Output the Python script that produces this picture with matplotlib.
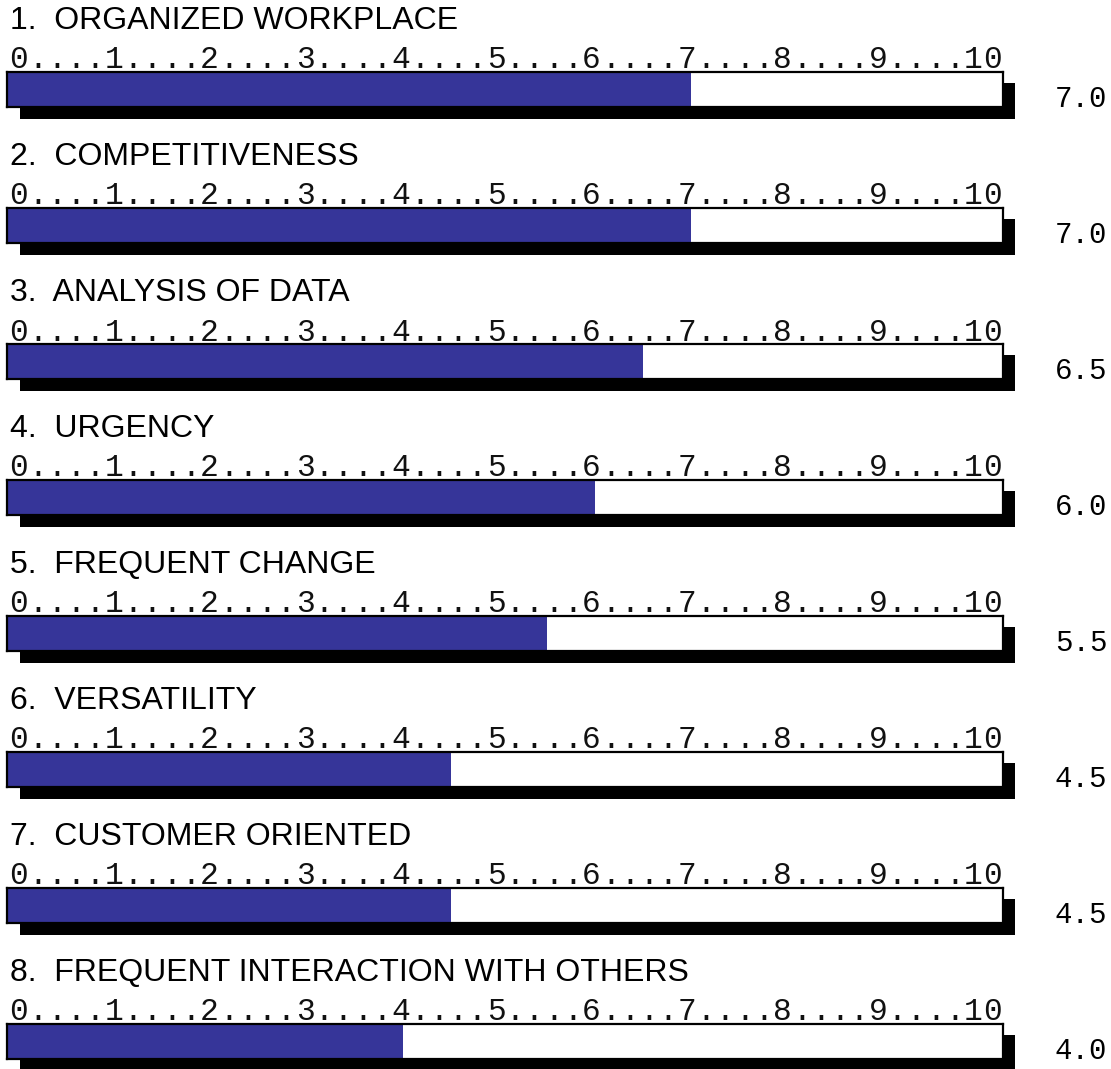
import matplotlib
matplotlib.use("Agg")
import matplotlib.pyplot as plt
from matplotlib.patches import Rectangle

categories = [
    "ORGANIZED WORKPLACE",
    "COMPETITIVENESS",
    "ANALYSIS OF DATA",
    "URGENCY",
    "FREQUENT CHANGE",
    "VERSATILITY",
    "CUSTOMER ORIENTED",
    "FREQUENT INTERACTION WITH OTHERS",
]
values = [7.0, 7.0, 6.5, 6.0, 5.5, 4.5, 4.5, 4.0]
scale_label = "0....1....2....3....4....5....6....7....8....9....10"

W, H = 1111, 1069
fig = plt.figure(figsize=(W / 100, H / 100), dpi=100)
fig.patch.set_facecolor("white")

BAR_COLOR = "#363599"
STEP = 136
XMIN, XMAX = -0.129, 10.257
PITCH = 19.1  # px between scale characters

def fx(px):
    return px / W

def fy(py):
    return 1 - py / H

for i, (cat, val) in enumerate(zip(categories, values)):
    off = STEP * i
    # title
    fig.text(fx(10), fy(29 + off), f"{i + 1}.  {cat}", fontsize=23,
             family="Liberation Sans", ha="left", va="baseline", color="black")
    # scale text (monospace, spread evenly)
    for k, ch in enumerate(scale_label):
        fig.text(fx(18.5 + PITCH * k), fy(68.5 + off), ch, fontsize=22.5,
                 family="Liberation Mono", ha="center", va="baseline",
                 color="#111111")
    # shadow
    fig.patches.append(Rectangle((fx(20), fy(119 + off)), fx(995), 36 / H,
                                 transform=fig.transFigure, facecolor="black",
                                 edgecolor="none", zorder=-1))
    # bar axes
    ax = fig.add_axes([fx(7), fy(107 + off), fx(996), 35 / H])
    ax.set_xlim(XMIN, XMAX)
    ax.set_ylim(0, 1)
    ax.barh(0.5, val - XMIN, left=XMIN, height=1.0, color=BAR_COLOR,
            edgecolor="none")
    ax.set_facecolor("white")
    ax.set_xticks([])
    ax.set_yticks([])
    for sp in ax.spines.values():
        sp.set_linewidth(1.6)
        sp.set_color("black")
    # value label
    fig.text(fx(1055), fy(107 + off), f"{val:.1f}", fontsize=21,
             family="Liberation Mono", ha="left", va="baseline", color="black")

fig.savefig("out.png", dpi=100, facecolor="white")
